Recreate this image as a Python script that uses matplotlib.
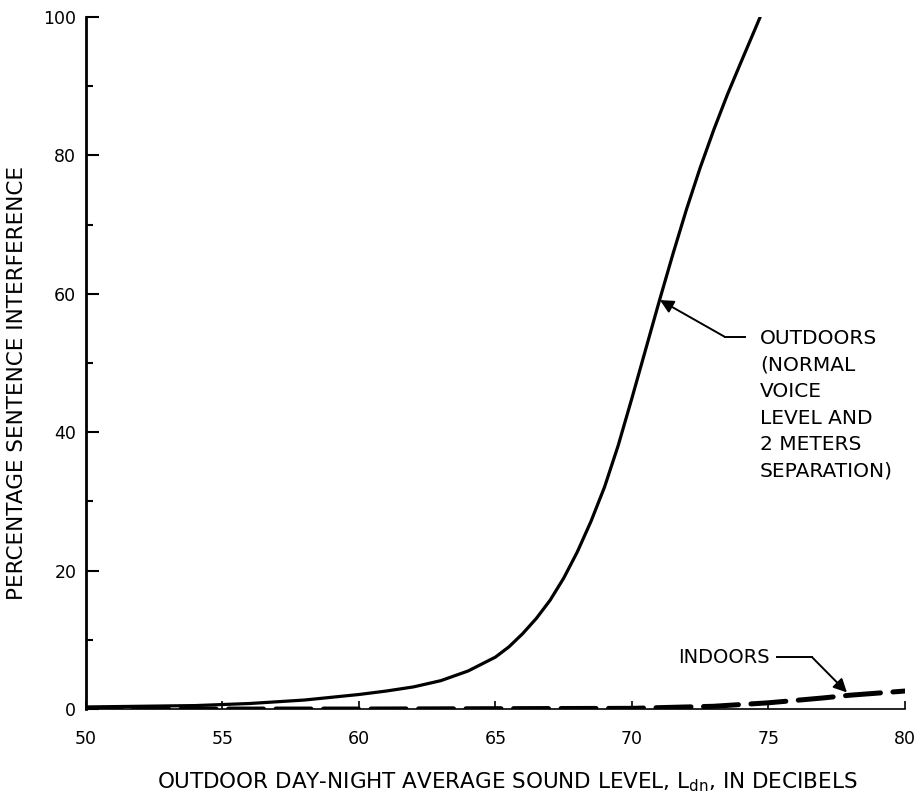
import numpy as np
import matplotlib
matplotlib.use('Agg')
import matplotlib.pyplot as plt
from matplotlib.ticker import MultipleLocator

plt.rcParams['font.family'] = 'DejaVu Sans'
plt.rcParams['mathtext.default'] = 'regular'

# outdoor speech interference vs Ldn (normal voice, 2 m separation)
ldn_out = [50, 52, 54, 56, 58, 59, 60, 61, 62, 63, 64, 65, 65.5, 66, 66.5, 67,
           67.5, 68, 68.5, 69, 69.5, 70, 70.5, 71, 71.5, 72, 72.5, 73, 73.5, 74, 74.7]
pct_out = [0.3, 0.4, 0.5, 0.8, 1.3, 1.7, 2.1, 2.6, 3.2, 4.1, 5.5, 7.5, 9.0, 10.9, 13.1, 15.7,
           18.9, 22.7, 27.1, 32.1, 38.1, 44.9, 51.9, 58.9, 65.7, 72.2, 78.2, 83.7, 88.8, 93.5, 100]

# indoor interference (windows partly open)
ldn_in = [50, 60, 70, 73, 75, 77, 78, 80]
pct_in = [0.0, 0.0, 0.1, 0.4, 0.9, 1.6, 2.0, 2.6]

fig = plt.figure(figsize=(9.21, 7.99), dpi=100)
ax = fig.add_axes([0.0934, 0.1126, 0.889, 0.866])

ax.plot(ldn_out, pct_out, color='black', lw=2.3, solid_capstyle='round')
ax.plot(ldn_in, pct_in, color='black', lw=3.6, dashes=(7, 2.5), dash_capstyle='round')

ax.set_xlim(50, 80)
ax.set_ylim(0, 100)
ax.xaxis.set_major_locator(MultipleLocator(5))
ax.yaxis.set_major_locator(MultipleLocator(20))
ax.yaxis.set_minor_locator(MultipleLocator(10))
ax.tick_params(axis='y', which='major', direction='in', length=9, width=1.5, pad=7, labelsize=12.5)
ax.tick_params(axis='y', which='minor', direction='in', length=5, width=1.5)
ax.tick_params(axis='x', which='major', direction='in', length=6, width=1.2, pad=15, labelsize=12.5)
for s in ['top', 'right']:
    ax.spines[s].set_visible(False)
ax.spines['left'].set_linewidth(2.0)
ax.spines['bottom'].set_linewidth(1.2)
ax.spines['left'].set_zorder(5)

ax.set_xlabel(r'OUTDOOR DAY-NIGHT AVERAGE SOUND LEVEL, L$_{dn}$, IN DECIBELS',
              fontsize=15.5)
ax.xaxis.set_label_coords(0.514, -0.088)
ax.set_ylabel('PERCENTAGE SENTENCE INTERFERENCE', fontsize=15.5)
ax.yaxis.set_label_coords(-0.072, 0.471)

# leader lines and labels
ax.plot([73.4, 74.14], [53.8, 53.8], color='black', lw=1.4, clip_on=False)
ax.annotate('', xy=(71.03, 59.1), xytext=(73.4, 53.8),
            arrowprops=dict(arrowstyle='-|>', color='black', lw=1.4,
                            mutation_scale=20, shrinkA=0, shrinkB=0))
ax.text(74.69, 54.9, 'OUTDOORS\n(NORMAL\nVOICE\nLEVEL AND\n2 METERS\nSEPARATION)',
        fontsize=14.5, va='top', ha='left', linespacing=1.5)

ax.plot([75.3, 76.6], [7.5, 7.5], color='black', lw=1.4)
ax.annotate('', xy=(77.88, 2.4), xytext=(76.6, 7.5),
            arrowprops=dict(arrowstyle='-|>', color='black', lw=1.4,
                            mutation_scale=20, shrinkA=0, shrinkB=0))
ax.text(75.05, 7.5, 'INDOORS', fontsize=14, va='center', ha='right')

fig.savefig('out.png', dpi=100)
